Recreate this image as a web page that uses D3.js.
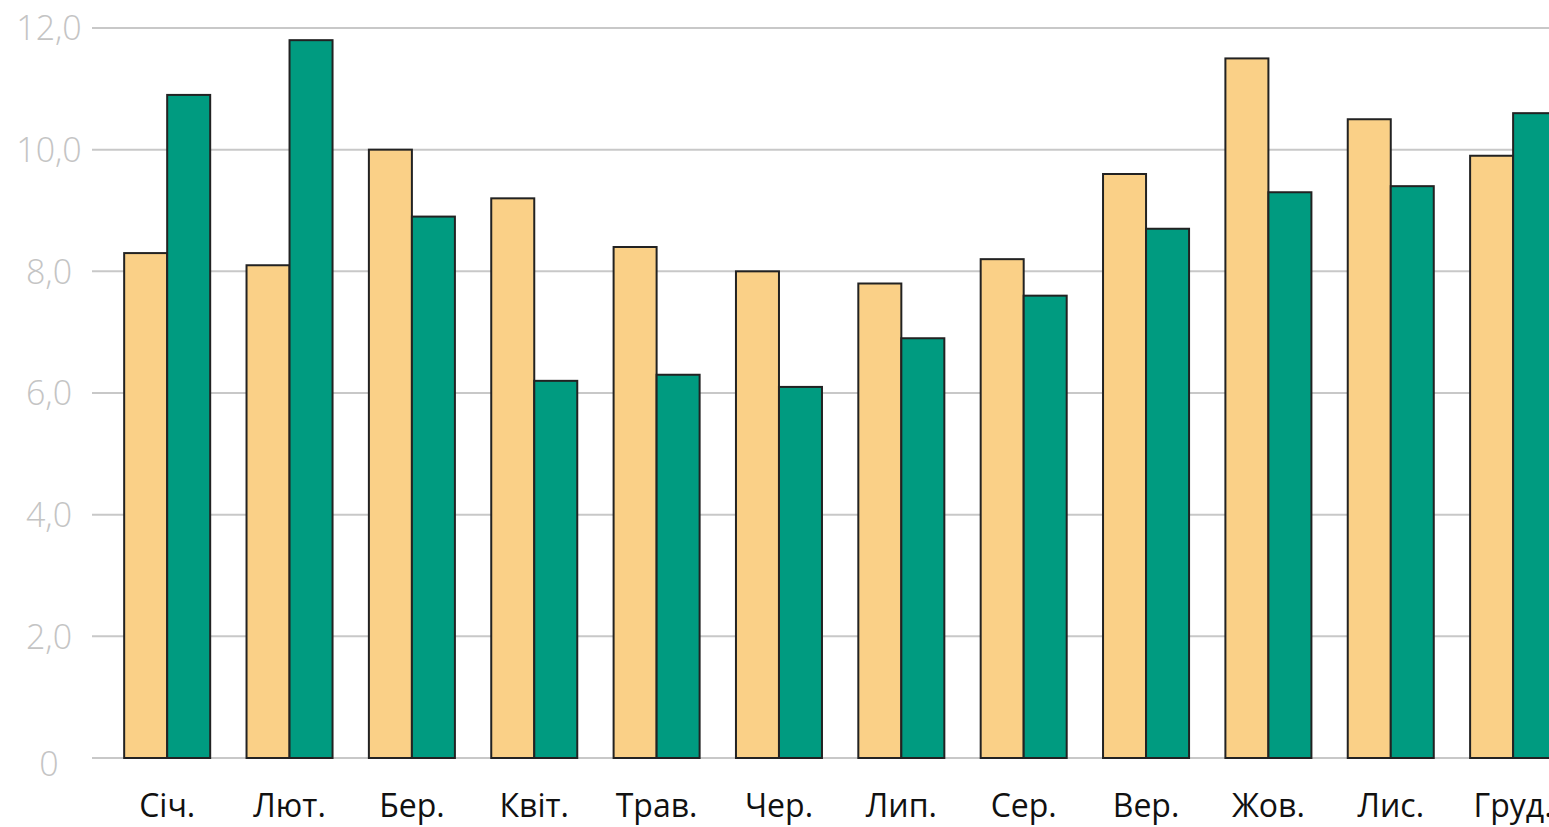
<!DOCTYPE html>
<html>
<head>
<meta charset="utf-8">
<script src="https://cdn.jsdelivr.net/npm/d3@7"></script>
<style>
  html, body { margin: 0; padding: 0; background: #fff; overflow: hidden; }
  svg { display: block; }
</style>
</head>
<body>
<svg id="chart" width="1549" height="827"></svg>
<script>
const months = ["Січ.", "Лют.", "Бер.", "Квіт.", "Трав.", "Чер.", "Лип.", "Сер.", "Вер.", "Жов.", "Лис.", "Груд."];
const seriesA = [8.3, 8.1, 10.0, 9.2, 8.4, 8.0, 7.8, 8.2, 9.6, 11.5, 10.5, 9.9];
const seriesB = [10.9, 11.8, 8.9, 6.2, 6.3, 6.1, 6.9, 7.6, 8.7, 9.3, 9.4, 10.6];
const seriesKeys = ["a", "b"];
const seriesColors = ["#FAD087", "#009B80"];
const yTicks = [0, 2, 4, 6, 8, 10, 12];

const rows = months.map((m, i) => ({ month: m, a: seriesA[i], b: seriesB[i] }));

const svg = d3.select("#chart");
const x0 = d3.scaleBand().domain(months).range([106, 1574.3]).paddingInner(0.297).paddingOuter(0.1485);
const x1 = d3.scaleBand().domain(seriesKeys).range([0, x0.bandwidth()]);
const y = d3.scaleLinear().domain([0, 12]).range([758, 28]);
const color = d3.scaleOrdinal().domain(seriesKeys).range(seriesColors);

// gridlines
svg.append("g").selectAll("line").data(yTicks).join("line")
  .attr("x1", 92).attr("x2", 1560)
  .attr("y1", d => y(d)).attr("y2", d => y(d))
  .attr("stroke", "#c8c8c8").attr("stroke-width", 2);

// y labels
svg.append("g").selectAll("text").data(yTicks).join("text")
  .attr("x", 49)
  .attr("y", d => y(d) + (d === 0 ? 6 : 0))
  .attr("dy", "0.36em")
  .attr("text-anchor", "middle")
  .attr("font-family", "Open Sans, sans-serif")
  .attr("font-weight", 300)
  .attr("font-size", 34)
  .attr("fill", "#c4c4c4")
  .text(d => d === 0 ? "0" : d.toFixed(1).replace(".", ","));

// bars
const groups = svg.append("g").selectAll("g").data(rows).join("g")
  .attr("transform", d => `translate(${x0(d.month)},0)`);
groups.selectAll("rect").data(d => seriesKeys.map(k => ({ key: k, value: d[k] }))).join("rect")
  .attr("x", d => x1(d.key))
  .attr("width", x1.bandwidth())
  .attr("y", d => y(d.value))
  .attr("height", d => y(0) - y(d.value))
  .attr("fill", d => color(d.key))
  .attr("stroke", "#222")
  .attr("stroke-width", 2);

// month labels
svg.append("g").selectAll("text").data(months).join("text")
  .attr("x", d => x0(d) + x0.bandwidth() / 2)
  .attr("y", 817)
  .attr("text-anchor", "middle")
  .attr("font-family", "Open Sans, sans-serif")
  .attr("font-size", 32)
  .attr("fill", "#111")
  .text(d => d);
</script>
</body>
</html>
